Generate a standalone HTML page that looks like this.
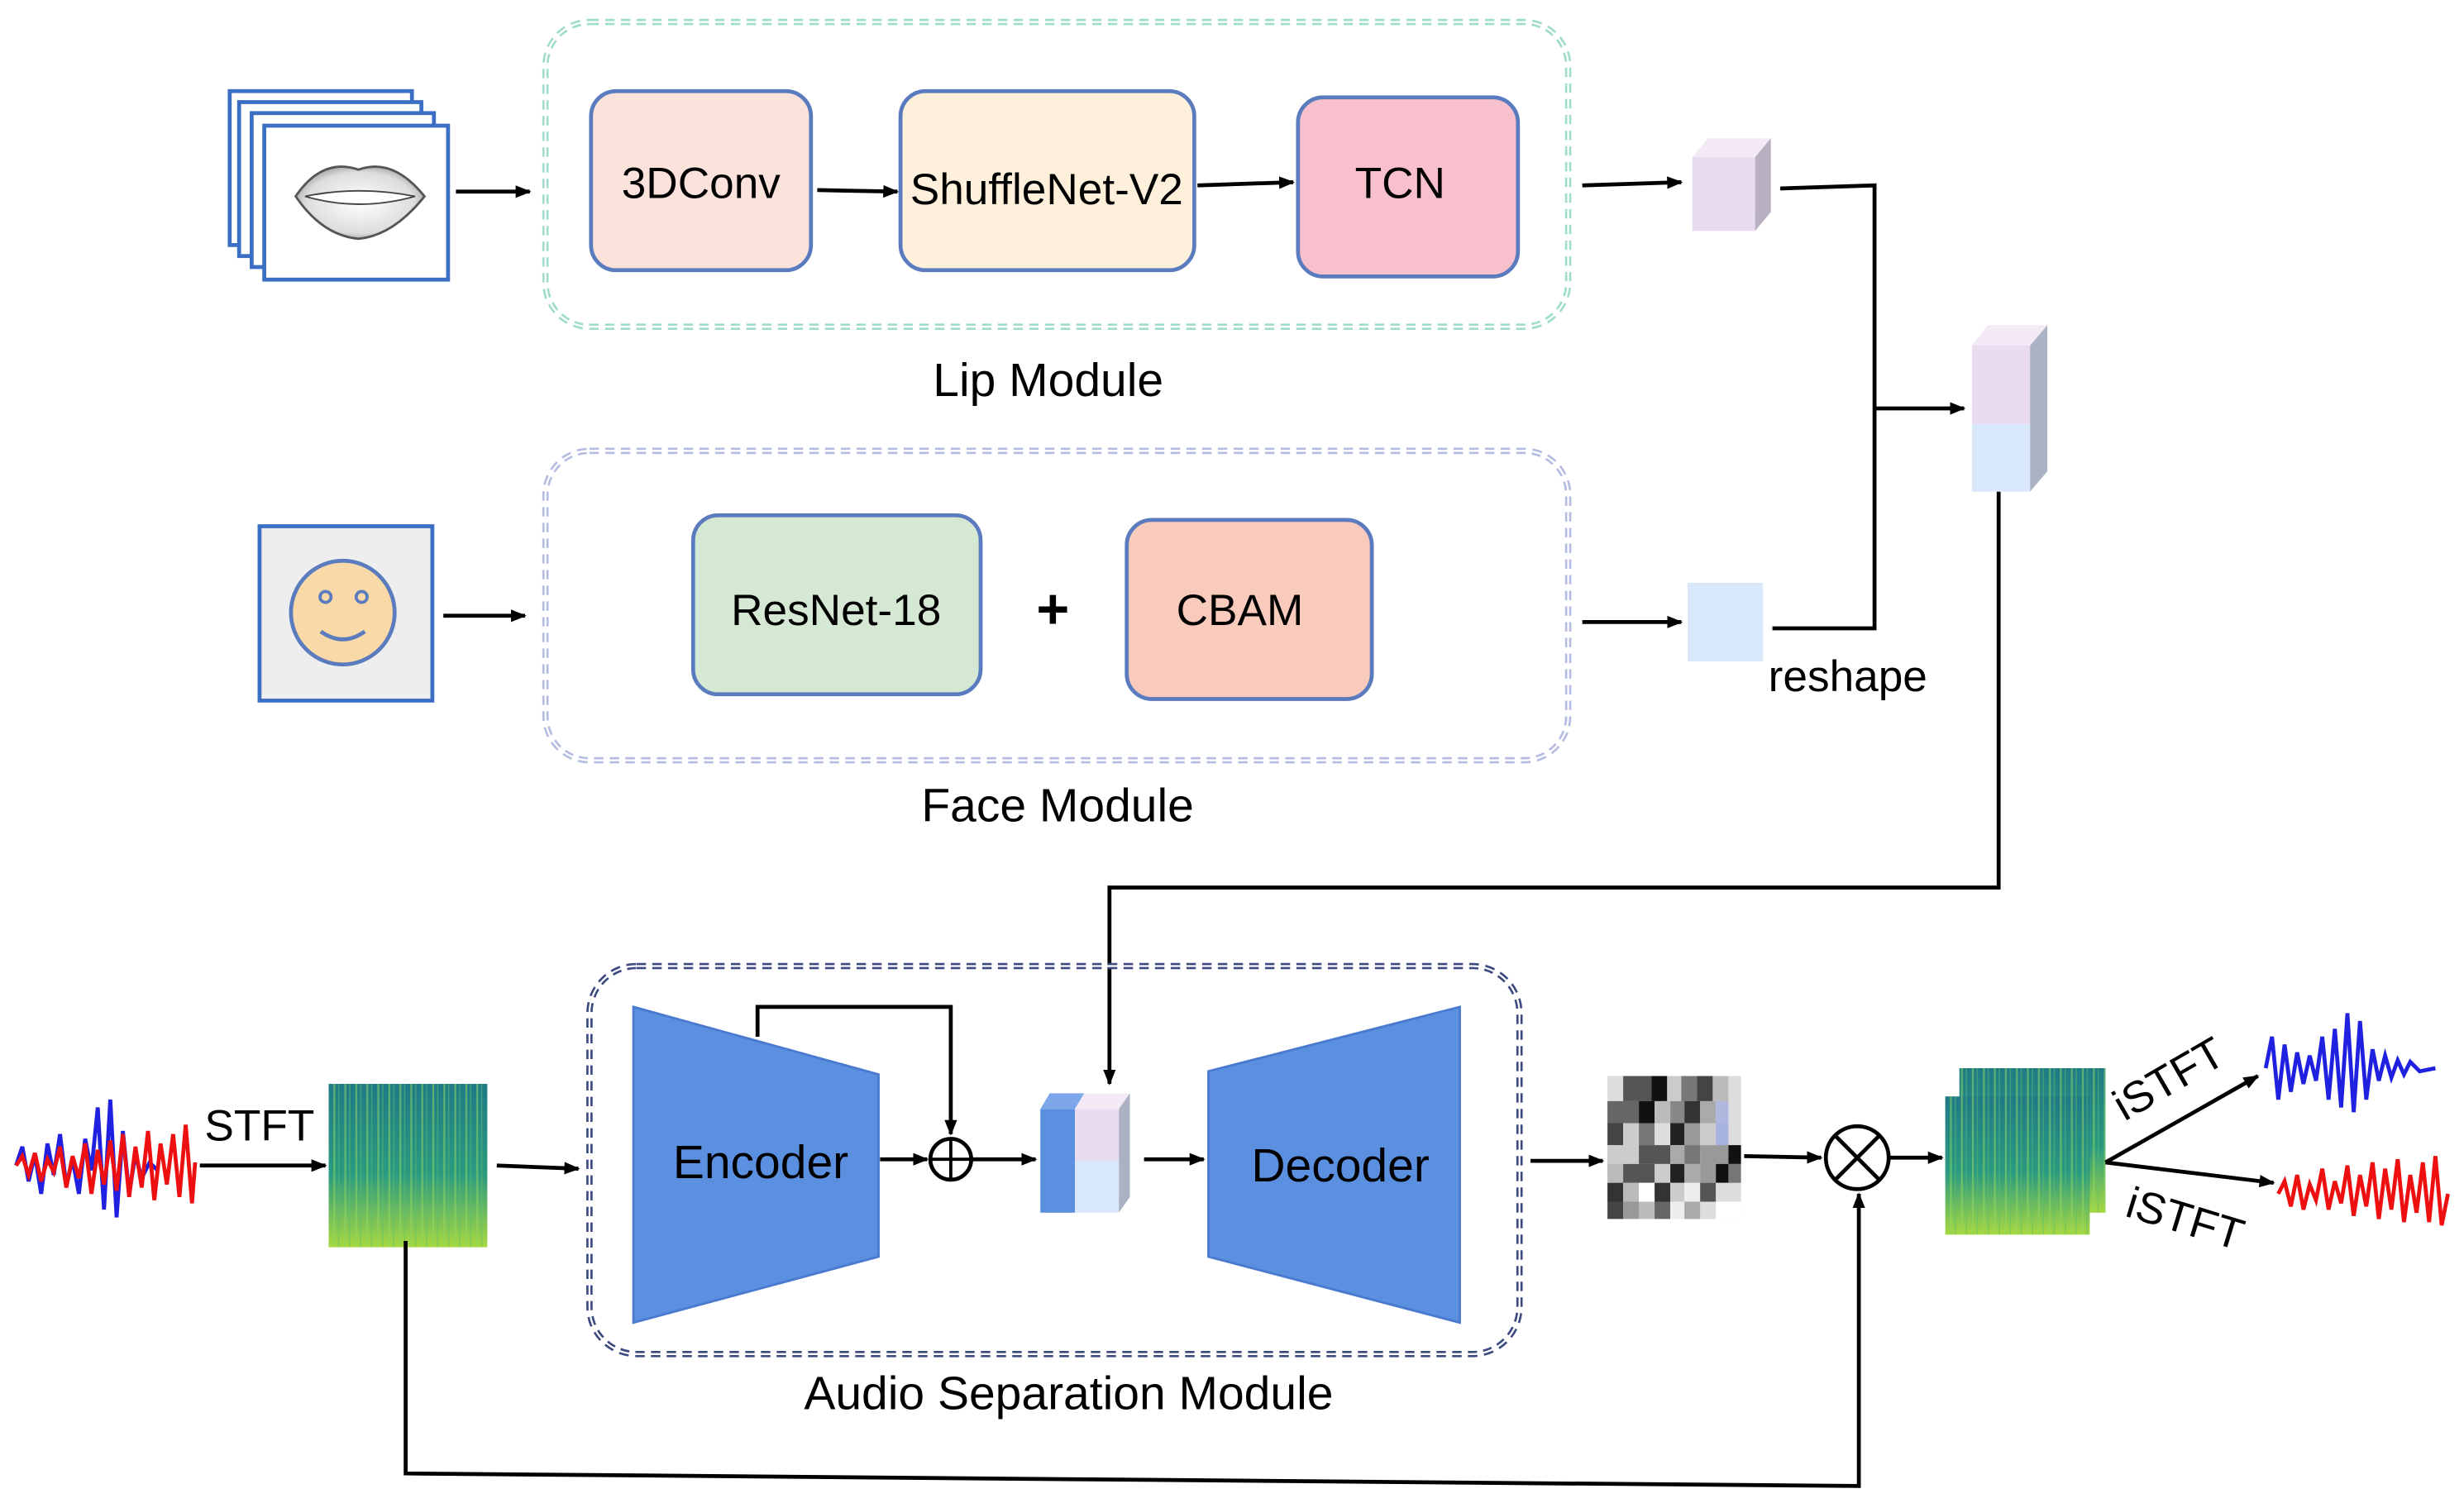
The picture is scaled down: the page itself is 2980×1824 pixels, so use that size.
<!DOCTYPE html>
<html><head><meta charset="utf-8"><style>html,body{margin:0;padding:0;background:#fff}svg{display:block}</style></head>
<body>
<svg width="2980" height="1824" viewBox="0 0 1568 960" xmlns="http://www.w3.org/2000/svg" font-family="'Liberation Sans', sans-serif">
<defs>
<marker id="a" markerWidth="10" markerHeight="10" refX="9" refY="5" orient="auto" markerUnits="userSpaceOnUse"><path d="M0,1 L10,5 L0,9 z" fill="#000"/></marker>
<linearGradient id="sg" x1="0" y1="0" x2="0" y2="1"><stop offset="0" stop-color="#1f7a86"/><stop offset="0.55" stop-color="#2a9a80"/><stop offset="1" stop-color="#a8d840"/></linearGradient>
<pattern id="sl" width="7" height="200" patternUnits="userSpaceOnUse"><rect x="2" width="1.2" height="200" fill="#8fd860" opacity="0.55"/><rect x="5" width="0.8" height="200" fill="#5cc070" opacity="0.5"/></pattern>
<radialGradient id="lg" cx="0.5" cy="0.5" r="0.6"><stop offset="0" stop-color="#fff"/><stop offset="0.7" stop-color="#ddd"/><stop offset="1" stop-color="#888"/></radialGradient>
</defs>

<g fill="#fff" stroke="#3b6fc4" stroke-width="2.5">
<rect x="146" y="58" width="116" height="98"/>
<rect x="152" y="65" width="116" height="98"/>
<rect x="160" y="72" width="116" height="98"/>
<rect x="168" y="80" width="117" height="98"/>
</g>
<path d="M188,125 Q205,100 228,108 Q250,100 270,125 Q250,150 228,152 Q205,150 188,125z" fill="url(#lg)" stroke="#555" stroke-width="1.5"/>
<path d="M194,125 Q228,118 264,125 Q228,135 194,125z" fill="#fff" stroke="#444" stroke-width="1"/>
<line x1="290" y1="122" x2="337" y2="122" stroke="#000" stroke-width="2.5" marker-end="url(#a)"/>

<rect x="347" y="14" width="651" height="194" rx="28" fill="none" stroke="#9fdccc" stroke-width="4" stroke-dasharray="6 4"/>
<rect x="347" y="14" width="651" height="194" rx="28" fill="none" stroke="#fff" stroke-width="1.2"/>
<rect x="376" y="58" width="140" height="114" rx="16" fill="#fbe3dc" stroke="#5b7bbf" stroke-width="2.5"/>
<text x="446" y="126" font-size="28" text-anchor="middle">3DConv</text>
<line x1="520" y1="121" x2="571" y2="122" stroke="#000" stroke-width="2.5" marker-end="url(#a)"/>
<rect x="573" y="58" width="187" height="114" rx="16" fill="#fff0dc" stroke="#5b7bbf" stroke-width="2.5"/>
<text x="666" y="130" font-size="28" text-anchor="middle">ShuffleNet-V2</text>
<line x1="762" y1="118" x2="823" y2="116" stroke="#000" stroke-width="2.5" marker-end="url(#a)"/>
<rect x="826" y="62" width="140" height="114" rx="16" fill="#f7c0cc" stroke="#5b7bbf" stroke-width="2.5"/>
<text x="891" y="126" font-size="28" text-anchor="middle">TCN</text>
<text x="667" y="252" font-size="30" text-anchor="middle">Lip Module</text>

<line x1="1007" y1="118" x2="1070" y2="116" stroke="#000" stroke-width="2.5" marker-end="url(#a)"/>
<rect x="1077" y="100" width="40" height="47" fill="#eadcf0"/>
<path d="M1077,100 L1087,88 L1127,88 L1117,100z" fill="#f3eaf6"/>
<path d="M1117,100 L1127,88 L1127,135 L1117,147z" fill="#b8b0c0"/>

<polyline points="1133,120 1193,118 1193,400 1128,400" fill="none" stroke="#000" stroke-width="2.5"/>
<line x1="1193" y1="260" x2="1250" y2="260" stroke="#000" stroke-width="2.5" marker-end="url(#a)"/>
<rect x="1255" y="220" width="37" height="50" fill="#eadcf0"/>
<rect x="1255" y="270" width="37" height="43" fill="#dae8fc"/>
<path d="M1255,220 L1265,207 L1303,207 L1292,220z" fill="#f3eaf6"/>
<path d="M1292,220 L1303,207 L1303,300 L1292,313z" fill="#aab2c4"/>

<rect x="165" y="335" width="110" height="111" fill="#eeeeee" stroke="#3b6fc4" stroke-width="2.5"/>
<circle cx="218" cy="390" r="33" fill="#fad9a8" stroke="#5b7bbf" stroke-width="2.5"/>
<circle cx="207" cy="380" r="3.5" fill="none" stroke="#5b7bbf" stroke-width="2"/>
<circle cx="230" cy="380" r="3.5" fill="none" stroke="#5b7bbf" stroke-width="2"/>
<path d="M204,402 Q218,412 232,402" fill="none" stroke="#5b7bbf" stroke-width="2.5"/>
<line x1="282" y1="392" x2="334" y2="392" stroke="#000" stroke-width="2.5" marker-end="url(#a)"/>

<rect x="347" y="287" width="651" height="197" rx="28" fill="none" stroke="#b4bce2" stroke-width="4" stroke-dasharray="6 4"/>
<rect x="347" y="287" width="651" height="197" rx="28" fill="none" stroke="#fff" stroke-width="1.2"/>
<rect x="441" y="328" width="183" height="114" rx="16" fill="#d5e8d4" stroke="#5b7bbf" stroke-width="2.5"/>
<text x="532" y="398" font-size="28" text-anchor="middle">ResNet-18</text>
<text x="670" y="400" font-size="36" font-weight="bold" text-anchor="middle">+</text>
<rect x="717" y="331" width="156" height="114" rx="16" fill="#f8cbbd" stroke="#5b7bbf" stroke-width="2.5"/>
<text x="789" y="398" font-size="28" text-anchor="middle">CBAM</text>
<text x="673" y="523" font-size="30" text-anchor="middle">Face Module</text>

<line x1="1007" y1="396" x2="1070" y2="396" stroke="#000" stroke-width="2.5" marker-end="url(#a)"/>
<rect x="1074" y="371" width="48" height="50" fill="#dae8fc"/>
<text x="1176" y="440" font-size="28" text-anchor="middle">reshape</text>

<polyline points="1272,313 1272,565 706,565 706,690" fill="none" stroke="#000" stroke-width="2.5" marker-end="url(#a)"/>

<rect x="375" y="615" width="592" height="247" rx="30" fill="none" stroke="#3c4a80" stroke-width="4" stroke-dasharray="6 4"/>
<rect x="375" y="615" width="592" height="247" rx="30" fill="none" stroke="#fff" stroke-width="1.2"/>
<polygon points="403,641 559,684 559,800 403,842" fill="#5b8fe0" stroke="#4a7ad0" stroke-width="1.5"/>
<text x="484" y="750" font-size="30" text-anchor="middle">Encoder</text>
<polyline points="482,660 482,641 605,641 605,722" fill="none" stroke="#000" stroke-width="2.5" marker-end="url(#a)"/>
<line x1="560" y1="738" x2="590" y2="738" stroke="#000" stroke-width="2.5" marker-end="url(#a)"/>
<circle cx="605" cy="738" r="13" fill="#fff" stroke="#000" stroke-width="2.5"/>
<line x1="592" y1="738" x2="618" y2="738" stroke="#000" stroke-width="2"/>
<line x1="605" y1="725" x2="605" y2="751" stroke="#000" stroke-width="2"/>
<line x1="618" y1="738" x2="659" y2="738" stroke="#000" stroke-width="2.5" marker-end="url(#a)"/>
<rect x="662" y="706" width="22" height="66" fill="#5b8fe0"/>
<path d="M662,706 L668,696 L690,696 L684,706z" fill="#7ea6ea"/>
<rect x="684" y="706" width="28" height="33" fill="#eadcf0"/>
<rect x="684" y="739" width="28" height="33" fill="#dae8fc"/>
<path d="M684,706 L690,696 L719,696 L712,706z" fill="#f3eaf6"/>
<path d="M712,706 L719,696 L719,762 L712,772z" fill="#aab2c4"/>
<line x1="728" y1="738" x2="766" y2="738" stroke="#000" stroke-width="2.5" marker-end="url(#a)"/>
<polygon points="769,682 929,641 929,842 769,800" fill="#5b8fe0" stroke="#4a7ad0" stroke-width="1.5"/>
<text x="853" y="752" font-size="30" text-anchor="middle">Decoder</text>
<text x="680" y="897" font-size="30" text-anchor="middle">Audio Separation Module</text>

<polyline fill="none" stroke="#2020e0" stroke-width="2.5" points="10,742 14,730 18,752 22,735 26,760 30,728 34,748 38,722 42,755 46,738 50,760 54,725 58,745 62,705 66,770 70,700 74,775 78,720 82,760 86,735 90,750 95,740 100,745"/>
<polyline fill="none" stroke="#ee1010" stroke-width="2.5" points="10,742 14,736 18,748 22,734 26,752 30,738 34,746 38,730 42,756 46,736 50,750 54,728 58,760 62,732 66,754 70,726 74,758 78,722 82,762 86,730 90,756 94,720 98,764 102,728 106,754 110,722 114,762 118,716 122,766 124,740"/>
<text x="165" y="726" font-size="28" text-anchor="middle">STFT</text>
<line x1="127" y1="742" x2="207" y2="742" stroke="#000" stroke-width="2.5" marker-end="url(#a)"/>
<rect x="209" y="690" width="101" height="104" fill="url(#sg)"/>
<rect x="209" y="690" width="101" height="104" fill="url(#sl)"/>
<line x1="316" y1="742" x2="368" y2="744" stroke="#000" stroke-width="2.5" marker-end="url(#a)"/>
<polyline points="258,790 258,938 1183,946 1183,760" fill="none" stroke="#000" stroke-width="2.5" marker-end="url(#a)"/>

<g>
<rect x="1023" y="685" width="85" height="91" fill="#ddd"/>
<rect x="1033" y="685" width="18" height="16" fill="#555"/><rect x="1051" y="685" width="10" height="16" fill="#111"/><rect x="1061" y="685" width="9" height="16" fill="#ccc"/><rect x="1070" y="685" width="10" height="16" fill="#777"/><rect x="1080" y="685" width="10" height="16" fill="#444"/><rect x="1090" y="685" width="10" height="16" fill="#bbb"/>
<rect x="1023" y="701" width="20" height="14" fill="#666"/><rect x="1043" y="701" width="10" height="14" fill="#111"/><rect x="1053" y="701" width="10" height="14" fill="#bbb"/><rect x="1063" y="701" width="9" height="14" fill="#888"/><rect x="1072" y="701" width="10" height="14" fill="#333"/><rect x="1082" y="701" width="10" height="14" fill="#aaa"/><rect x="1092" y="701" width="8" height="14" fill="#b0b8e0"/>
<rect x="1023" y="715" width="10" height="14" fill="#444"/><rect x="1033" y="715" width="10" height="14" fill="#ccc"/><rect x="1043" y="715" width="10" height="14" fill="#777"/><rect x="1053" y="715" width="10" height="14" fill="#ddd"/><rect x="1063" y="715" width="9" height="14" fill="#222"/><rect x="1072" y="715" width="10" height="14" fill="#999"/><rect x="1082" y="715" width="10" height="14" fill="#ccc"/><rect x="1092" y="715" width="8" height="14" fill="#a8b4e0"/>
<rect x="1023" y="729" width="20" height="12" fill="#ccc"/><rect x="1043" y="729" width="20" height="12" fill="#555"/><rect x="1063" y="729" width="9" height="12" fill="#aaa"/><rect x="1072" y="729" width="10" height="12" fill="#777"/><rect x="1082" y="729" width="18" height="12" fill="#999"/><rect x="1100" y="729" width="8" height="12" fill="#111"/>
<rect x="1023" y="741" width="10" height="12" fill="#bbb"/><rect x="1033" y="741" width="20" height="12" fill="#555"/><rect x="1053" y="741" width="10" height="12" fill="#ccc"/><rect x="1063" y="741" width="9" height="12" fill="#222"/><rect x="1072" y="741" width="10" height="12" fill="#aaa"/><rect x="1082" y="741" width="10" height="12" fill="#999"/><rect x="1092" y="741" width="8" height="12" fill="#111"/><rect x="1100" y="741" width="8" height="12" fill="#777"/>
<rect x="1023" y="753" width="10" height="12" fill="#333"/><rect x="1033" y="753" width="10" height="12" fill="#bbb"/><rect x="1043" y="753" width="10" height="12" fill="#fff"/><rect x="1053" y="753" width="10" height="12" fill="#333"/><rect x="1063" y="753" width="9" height="12" fill="#ccc"/><rect x="1072" y="753" width="10" height="12" fill="#eee"/><rect x="1082" y="753" width="10" height="12" fill="#555"/><rect x="1092" y="753" width="8" height="12" fill="#ddd"/>
<rect x="1023" y="765" width="10" height="11" fill="#444"/><rect x="1033" y="765" width="10" height="11" fill="#999"/><rect x="1043" y="765" width="10" height="11" fill="#bbb"/><rect x="1053" y="765" width="10" height="11" fill="#666"/><rect x="1063" y="765" width="9" height="11" fill="#eee"/><rect x="1072" y="765" width="10" height="11" fill="#aaa"/><rect x="1082" y="765" width="10" height="11" fill="#ddd"/><rect x="1092" y="765" width="16" height="11" fill="#fff"/>
</g>
<line x1="974" y1="739" x2="1020" y2="739" stroke="#000" stroke-width="2.5" marker-end="url(#a)"/>
<line x1="1110" y1="736" x2="1159" y2="737" stroke="#000" stroke-width="2.5" marker-end="url(#a)"/>
<circle cx="1182" cy="737" r="20" fill="#fff" stroke="#000" stroke-width="2.5"/>
<line x1="1168" y1="723" x2="1196" y2="751" stroke="#000" stroke-width="2.5"/>
<line x1="1196" y1="723" x2="1168" y2="751" stroke="#000" stroke-width="2.5"/>
<line x1="1203" y1="737" x2="1236" y2="737" stroke="#000" stroke-width="2.5" marker-end="url(#a)"/>

<rect x="1247" y="680" width="93" height="92" fill="url(#sg)"/><rect x="1247" y="680" width="93" height="92" fill="url(#sl)"/>
<rect x="1238" y="698" width="92" height="88" fill="url(#sg)"/><rect x="1238" y="698" width="92" height="88" fill="url(#sl)"/>

<line x1="1340" y1="740" x2="1437" y2="685" stroke="#000" stroke-width="2.5" marker-end="url(#a)"/>
<line x1="1340" y1="740" x2="1447" y2="753" stroke="#000" stroke-width="2.5" marker-end="url(#a)"/>
<text x="1385" y="695" font-size="28" text-anchor="middle" transform="rotate(-30 1385 695)">iSTFT</text>
<text x="1388" y="785" font-size="28" text-anchor="middle" transform="rotate(17 1388 785)">iSTFT</text>

<polyline fill="none" stroke="#2020e0" stroke-width="2.5" points="1442,680 1446,660 1450,700 1454,665 1458,695 1462,670 1466,690 1470,672 1474,688 1478,660 1482,700 1486,655 1490,705 1494,645 1498,708 1502,650 1506,700 1510,668 1514,688 1518,672 1522,686 1526,675 1530,684 1534,676 1540,682 1550,680"/>
<polyline fill="none" stroke="#ee1010" stroke-width="2.5" points="1450,760 1454,752 1458,768 1462,748 1466,770 1470,754 1474,764 1478,744 1482,770 1486,752 1490,766 1494,742 1498,774 1502,748 1506,768 1510,740 1514,776 1518,744 1522,770 1526,738 1530,778 1534,748 1538,772 1542,740 1546,778 1550,736 1554,780 1558,760"/>
</svg>
</body></html>
